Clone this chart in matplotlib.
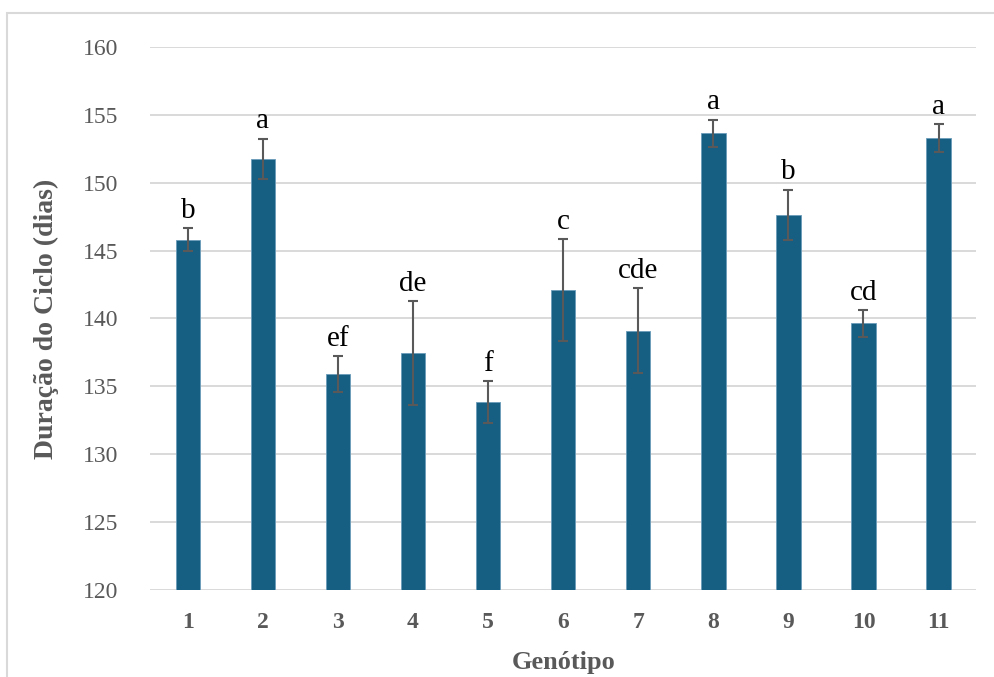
import matplotlib
matplotlib.use('Agg')
import matplotlib.pyplot as plt
from matplotlib.patches import Rectangle

plt.rcParams['font.family'] = ['Liberation Serif', 'DejaVu Serif']

# valores
genotipos = ['1', '2', '3', '4', '5', '6', '7', '8', '9', '10', '11']
duracao = [145.8, 151.75, 135.9, 137.45, 133.85, 142.1, 139.1, 153.65, 147.65, 139.65, 153.3]
erro = [0.85, 1.5, 1.35, 3.85, 1.55, 3.75, 3.15, 1.0, 1.85, 1.0, 1.0]
letras = ['b', 'a', 'ef', 'de', 'f', 'c', 'cde', 'a', 'b', 'cd', 'a']

cor_barra = '#175f82'
cinza = '#595959'

fig = plt.figure(figsize=(9.95, 6.77), dpi=100)
ax = fig.add_axes([0.151, 0.1285, 0.830, 0.8021])

x = range(len(genotipos))
ax.bar(x, [d - 120 for d in duracao], bottom=120, width=0.325, color=cor_barra,
       edgecolor='#6a9cbb', linewidth=0.6, zorder=3)
ax.errorbar(x, duracao, yerr=erro, fmt='none', ecolor=cinza, elinewidth=1.5,
            capsize=3.8, capthick=1.5, zorder=4)

for i, (d, e, l) in enumerate(zip(duracao, erro, letras)):
    ax.annotate(l, (i, d + e), xytext=(0, 3), textcoords='offset points',
                ha='center', va='bottom', fontsize=21, color='black')

ax.set_xlim(-0.5, len(genotipos) - 0.5)
ax.set_ylim(120, 160)
ax.set_yticks(range(120, 161, 5))
ax.set_xticks(list(x))
ax.set_xticklabels(genotipos, fontweight='bold')
ax.tick_params(axis='both', length=0, labelsize=17, colors=cinza)
ax.tick_params(axis='y', pad=23)
ax.tick_params(axis='x', pad=16)
ax.grid(axis='y', color='#d9d9d9', linewidth=1.4, zorder=0)
for s in ax.spines.values():
    s.set_visible(False)

ax.set_ylabel('Duração do Ciclo (dias)', fontsize=20, fontweight='bold', color=cinza, labelpad=17)
ax.set_xlabel('Genótipo', fontsize=19, fontweight='bold', color=cinza, labelpad=13)

# moldura do grafico
fig.patches.append(Rectangle((7 / 995, -0.1), 1.1, 1 - 13 / 677 + 0.1, transform=fig.transFigure,
                             fill=False, edgecolor='#d9d9d9', linewidth=1.5))

fig.savefig('out.png', dpi=100)
